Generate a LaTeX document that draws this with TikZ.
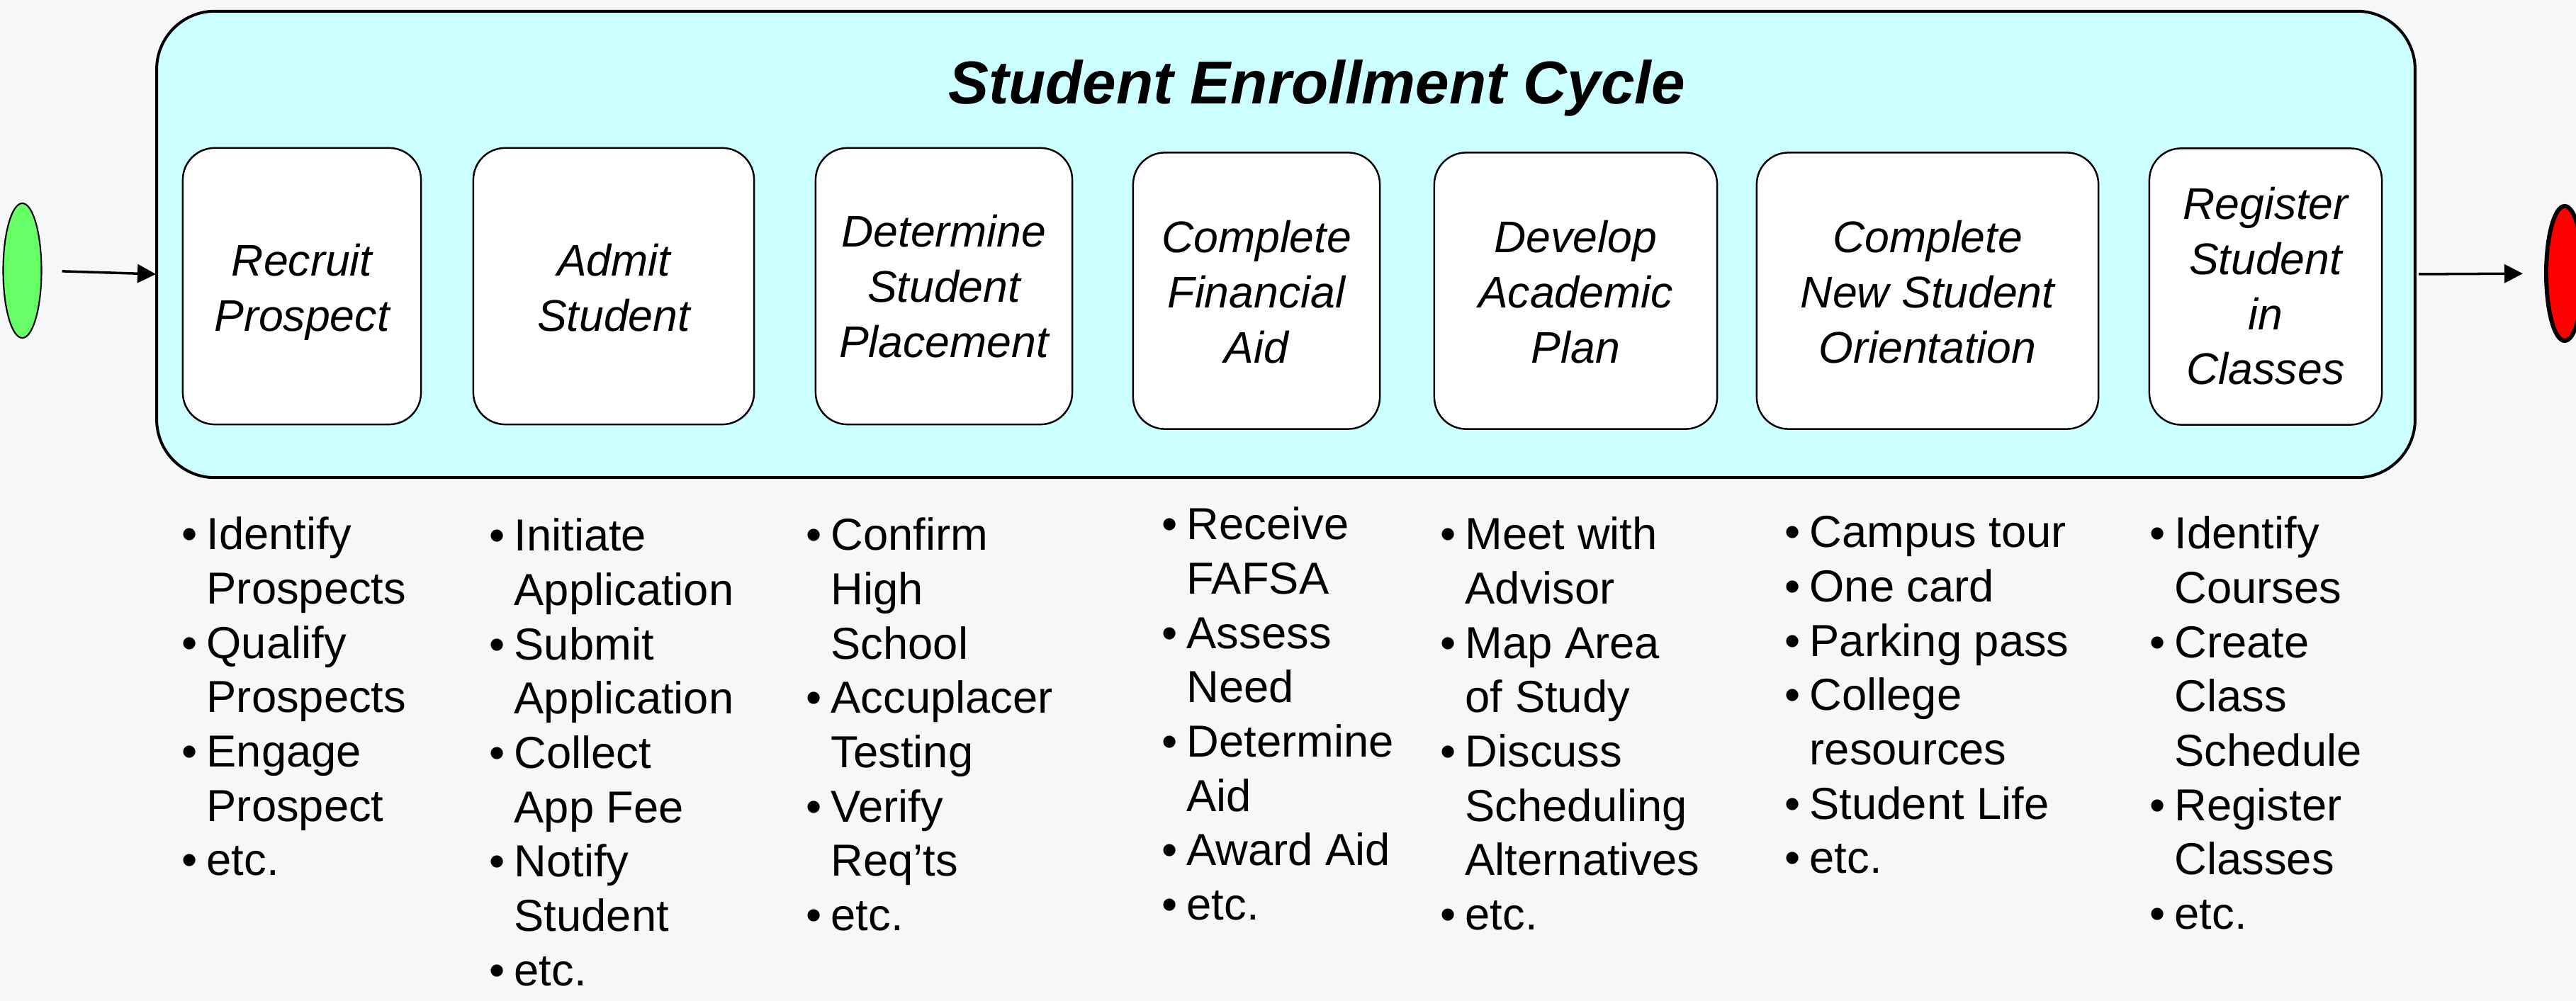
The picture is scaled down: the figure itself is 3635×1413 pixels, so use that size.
\documentclass[tikz,border=0pt]{standalone}
\usepackage{fontspec}
\setmainfont{Liberation Sans}
\usetikzlibrary{shapes.geometric,arrows.meta}
\definecolor{pagebg}{HTML}{F6F7F9}
\definecolor{cyclefill}{HTML}{CCFFFF}
\definecolor{startgreen}{HTML}{66FF66}
\definecolor{stopred}{HTML}{FF0000}
% bullet hanging to the left of a list line
\newcommand\itemdot{\llap{\makebox[10pt][l]{•}}}

\begin{document}
\begin{tikzpicture}[x=0.01cm,y=-0.01cm,
  container/.style={draw, line width=1.14pt, fill=cyclefill, rounded corners=0.82cm,
    minimum width=31.85cm, minimum height=6.58cm, inner sep=0},
  stepbox/.style={draw, line width=0.7pt, fill=white, rounded corners=0.45cm,
    minimum height=3.9cm, inner sep=0},
  steplabel/.style={anchor=base, inner sep=0, font=\fontsize{17.8}{22.05}\selectfont\itshape},
  tasklist/.style={anchor=base west, inner sep=0, font=\fontsize{18}{21.8}\selectfont},
  flow/.style={line width=1pt, -{Triangle[length=7.4pt,width=7.4pt]}},
  terminal/.style={ellipse, draw, inner sep=0}
]
\fill[pagebg] (0,0) rectangle (3635,1413);
\useasboundingbox (0,0) rectangle (3635,1413);

% container with title
\node[container] (cycle) at (1814.5,345) {};
\node[anchor=base, inner sep=0, font=\fontsize{24.3}{29}\selectfont\bfseries\itshape]
  (title) at (1858,147) {Student Enrollment Cycle};

% process steps
\node[stepbox, minimum width=3.36cm] (s1) at (426,404)   {};
\node[stepbox, minimum width=3.96cm] (s2) at (866,404)   {};
\node[stepbox, minimum width=3.62cm] (s3) at (1332,404)  {};
\node[stepbox, minimum width=3.48cm] (s4) at (1773,410.5) {};
\node[stepbox, minimum width=3.99cm] (s5) at (2223.5,410.5) {};
\node[stepbox, minimum width=4.82cm] (s6) at (2720,410.5) {};
\node[stepbox, minimum width=3.28cm] (s7) at (3197,404.5) {};

% step names, placed by the baseline of their first line
\node[steplabel] (l1) at (s1.center |- 0,390) {\begin{tabular}[t]{@{}c@{}}Recruit\\Prospect\end{tabular}};
\node[steplabel] (l2) at (s2.center |- 0,390) {\begin{tabular}[t]{@{}c@{}}Admit\\Student\end{tabular}};
\node[steplabel] (l3) at (s3.center |- 0,349) {\begin{tabular}[t]{@{}c@{}}Determine\\Student\\Placement\end{tabular}};
\node[steplabel] (l4) at (s4.center |- 0,357) {\begin{tabular}[t]{@{}c@{}}Complete\\Financial\\Aid\end{tabular}};
\node[steplabel] (l5) at (s5.center |- 0,357) {\begin{tabular}[t]{@{}c@{}}Develop\\Academic\\Plan\end{tabular}};
\node[steplabel] (l6) at (s6.center |- 0,357) {\begin{tabular}[t]{@{}c@{}}Complete\\New Student\\Orientation\end{tabular}};
\node[steplabel] (l7) at (s7.center |- 0,310) {\begin{tabular}[t]{@{}c@{}}Register\\Student\\in\\Classes\end{tabular}};

% start and end markers
\node[terminal, fill=startgreen, line width=0.6pt, minimum width=0.54cm, minimum height=1.9cm]
  (start) at (31.5,382) {};
\node[terminal, fill=stopred, line width=1.7pt, minimum width=0.52cm, minimum height=1.9cm]
  (stop) at (3619,386) {};

\coordinate (entry) at (220,387);
\coordinate (exit) at (3409,387);
\draw[flow, shorten <=0.28cm] (start.east) -- (entry);
\draw[flow, shorten <=0.04cm, shorten >=0.3cm] (exit) -- (stop.west);

% task lists under each step
\node[tasklist] (t1) at (291,776) {\begin{tabular}[t]{@{}l@{}}
  \itemdot Identify\\ Prospects\\ \itemdot Qualify\\ Prospects\\
  \itemdot Engage\\ Prospect\\ \itemdot etc.\end{tabular}};
\node[tasklist] (t2) at (725,778) {\begin{tabular}[t]{@{}l@{}}
  \itemdot Initiate\\ Application\\ \itemdot Submit\\ Application\\
  \itemdot Collect\\ App Fee\\ \itemdot Notify\\ Student\\ \itemdot etc.\end{tabular}};
\node[tasklist] (t3) at (1172,777) {\begin{tabular}[t]{@{}l@{}}
  \itemdot Confirm\\ High\\ School\\ \itemdot Accuplacer\\ Testing\\
  \itemdot Verify\\ Req’ts\\ \itemdot etc.\end{tabular}};
\node[tasklist] (t4) at (1674,762) {\begin{tabular}[t]{@{}l@{}}
  \itemdot Receive\\ FAFSA\\ \itemdot Assess\\ Need\\
  \itemdot Determine\\ Aid\\ \itemdot Award Aid\\ \itemdot etc.\end{tabular}};
\node[tasklist] (t5) at (2067,776) {\begin{tabular}[t]{@{}l@{}}
  \itemdot Meet with\\ Advisor\\ \itemdot Map Area\\ of Study\\
  \itemdot Discuss\\ Scheduling\\ Alternatives\\ \itemdot etc.\end{tabular}};
\node[tasklist] (t6) at (2553,773) {\begin{tabular}[t]{@{}l@{}}
  \itemdot Campus tour\\ \itemdot One card\\ \itemdot Parking pass\\
  \itemdot College\\ resources\\ \itemdot Student Life\\ \itemdot etc.\end{tabular}};
\node[tasklist] (t7) at (3068,775) {\begin{tabular}[t]{@{}l@{}}
  \itemdot Identify\\ Courses\\ \itemdot Create\\ Class\\ Schedule\\
  \itemdot Register\\ Classes\\ \itemdot etc.\end{tabular}};
\end{tikzpicture}
\end{document}
